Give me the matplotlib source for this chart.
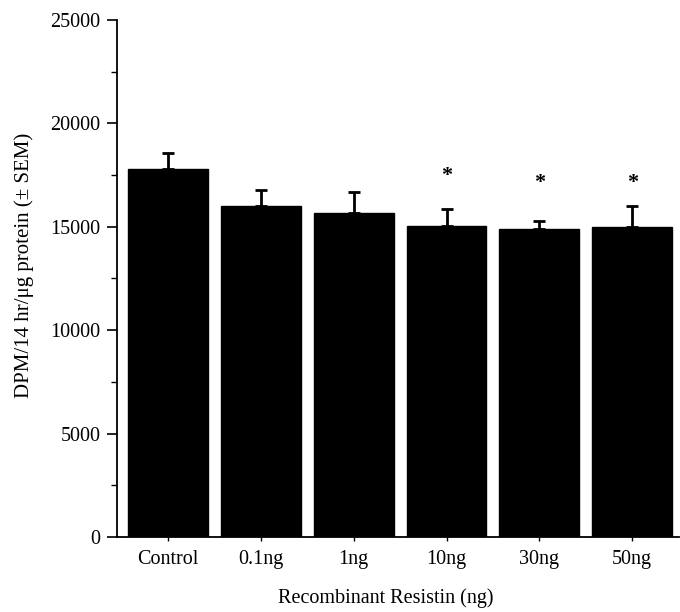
import matplotlib.pyplot as plt
from matplotlib.ticker import MultipleLocator

groups = ["Control", "0.1ng", "1ng", "10ng", "30ng", "50ng"]
means = [17800, 16000, 15650, 15020, 14890, 15000]
sem = [750, 760, 1030, 850, 370, 990]
signif = [False, False, False, True, True, True]
star_y = [None, None, None, 17470, 17120, 17120]

plt.rcParams["font.family"] = ["Liberation Serif", "DejaVu Serif"]
fs = 14.5

fig = plt.figure(figsize=(6.8, 6.12), dpi=100)
ax = fig.add_axes([0.172, 0.1225, 0.826, 0.845])

x = list(range(len(groups)))
ax.bar(x, means, width=0.86, color="black", edgecolor="black", zorder=2)
ax.errorbar(x, means, yerr=[[0] * len(sem), sem], fmt="none", ecolor="black",
            elinewidth=2, capsize=4, capthick=2, zorder=1)

for i, s in enumerate(signif):
    if s:
        ax.text(i, star_y[i], "*", ha="center", va="center", fontsize=16,
                fontweight="bold")

ax.set_xlim(-0.55, 5.5)
ax.set_ylim(0, 25000)
ax.set_xticks(x)
ax.set_xticklabels(groups, fontsize=fs)
ax.yaxis.set_major_locator(MultipleLocator(5000))
ax.yaxis.set_minor_locator(MultipleLocator(2500))
ax.tick_params(axis="y", which="major", length=7, width=1.2, labelsize=fs, pad=5)
ax.tick_params(axis="y", which="minor", length=4, width=1)
ax.tick_params(axis="x", length=3, width=1, pad=6)

for side in ["top", "right"]:
    ax.spines[side].set_visible(False)
ax.spines["left"].set_linewidth(1.3)
ax.spines["bottom"].set_linewidth(1.3)

fig.text(24 / 680, 1 - 265 / 612, "DPM/14 hr/\u03bcg protein (\u00b1 SEM)",
         rotation=90, ha="center", va="center", fontsize=15)
fig.text(386 / 680, 1 - 598 / 612, "Recombinant Resistin (ng)",
         ha="center", va="center", fontsize=fs)

fig.savefig("out.png", dpi=100)
